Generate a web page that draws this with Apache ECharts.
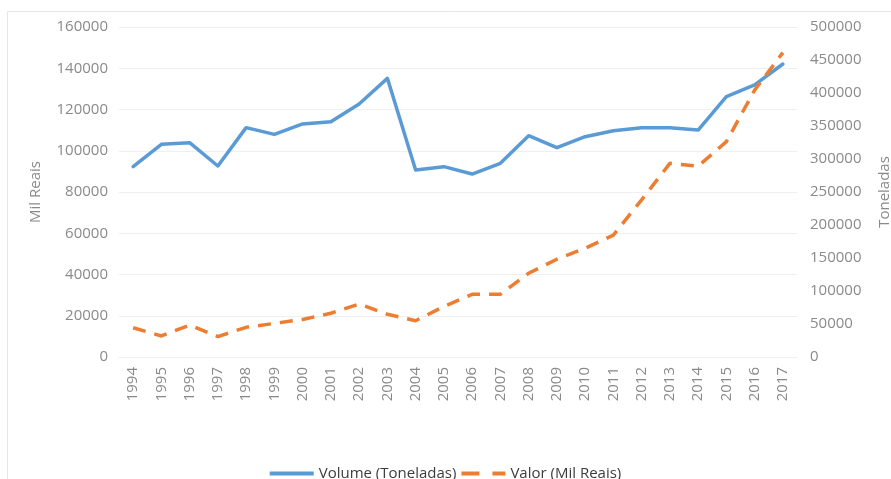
<!DOCTYPE html>
<html>
<head>
<meta charset="utf-8">
<script src="https://cdn.jsdelivr.net/npm/echarts@6/dist/echarts.min.js"></script>
<style>
html,body{margin:0;padding:0;background:#fff;}
#chart{width:891px;height:479px;}
</style>
</head>
<body>
<div id="chart"></div>
<script>
const years = ['1994','1995','1996','1997','1998','1999','2000','2001','2002','2003','2004','2005','2006','2007','2008','2009','2010','2011','2012','2013','2014','2015','2016','2017'];
const volumeToneladas = [288300,322200,324700,289400,347500,337300,353100,356600,383400,422200,283400,288400,277200,293400,335300,317200,333800,342800,347500,347500,343900,394400,412200,443900];
const valorMilReais = [14200,10200,15500,9900,14400,16300,18200,21200,25700,20700,17600,24500,30400,30400,40600,47400,52700,59100,76200,93900,92500,104400,129400,147600];
const seriesNames = ['Volume (Toneladas)','Valor (Mil Reais)'];
const leftAxisName = 'Mil Reais';
const rightAxisName = 'Toneladas';

const FONT = 'Open Sans';
const LABEL_COLOR = '#8a8a8a';
const plain = v => String(v);
const chart = echarts.init(document.getElementById('chart'), null, {renderer:'canvas'});
chart.setOption({
  animation:false,
  backgroundColor:'#ffffff',
  textStyle:{fontFamily:FONT},
  graphic:[{type:'rect',shape:{x:7.5,y:11.5,width:900,height:500},style:{fill:'none',stroke:'#e6e6e6',lineWidth:1},silent:true}],
  grid:{left:119,right:94,top:27,bottom:122,outerBoundsMode:'none',containLabel:false},
  legend:{
    top:461,left:'center',itemWidth:44,itemHeight:4,itemGap:5,
    textStyle:{color:'#3c3c3c',fontSize:15,fontFamily:FONT},
    data:[
      {name:seriesNames[0],icon:'path://M0,0H44V4H0Z',itemStyle:{color:'#5b9bd5'}},
      {name:seriesNames[1],icon:'path://M0,0H18V4H0Z M31,0H44V4H31Z',itemStyle:{color:'#ed7d31'}}
    ]
  },
  xAxis:{
    type:'category',data:years,boundaryGap:true,
    axisLine:{show:true,lineStyle:{color:'#efefef'}},
    axisTick:{show:false},
    axisLabel:{rotate:90,color:LABEL_COLOR,fontSize:15,margin:10,fontFamily:FONT,interval:0},
    splitLine:{show:false}
  },
  yAxis:[{
    type:'value',min:0,max:160000,interval:20000,
    name:leftAxisName,nameLocation:'middle',nameGap:76,nameRotate:90,
    nameTextStyle:{color:LABEL_COLOR,fontSize:15,fontFamily:FONT},
    axisLine:{show:false},axisTick:{show:false},
    axisLabel:{color:LABEL_COLOR,fontSize:15,margin:11,fontFamily:FONT,formatter:plain},
    splitLine:{lineStyle:{color:'#efefef',width:1}}
  },{
    type:'value',min:0,max:500000,interval:50000,position:'right',
    name:rightAxisName,nameLocation:'middle',nameGap:80,nameRotate:90,
    nameTextStyle:{color:LABEL_COLOR,fontSize:15,fontFamily:FONT},
    axisLine:{show:false},axisTick:{show:false},
    axisLabel:{color:LABEL_COLOR,fontSize:15,margin:13,fontFamily:FONT,formatter:plain},
    splitLine:{show:false}
  }],
  series:[{
    name:seriesNames[0],type:'line',yAxisIndex:1,data:volumeToneladas,
    symbol:'none',smooth:false,
    lineStyle:{color:'#5b9bd5',width:3.5,join:'round',cap:'round'},
    itemStyle:{color:'#5b9bd5'}
  },{
    name:seriesNames[1],type:'line',yAxisIndex:0,data:valorMilReais,
    symbol:'none',smooth:false,
    lineStyle:{color:'#ed7d31',width:3.5,type:[13,9],cap:'butt'},
    itemStyle:{color:'#ed7d31'}
  }]
});
</script>
</body>
</html>
